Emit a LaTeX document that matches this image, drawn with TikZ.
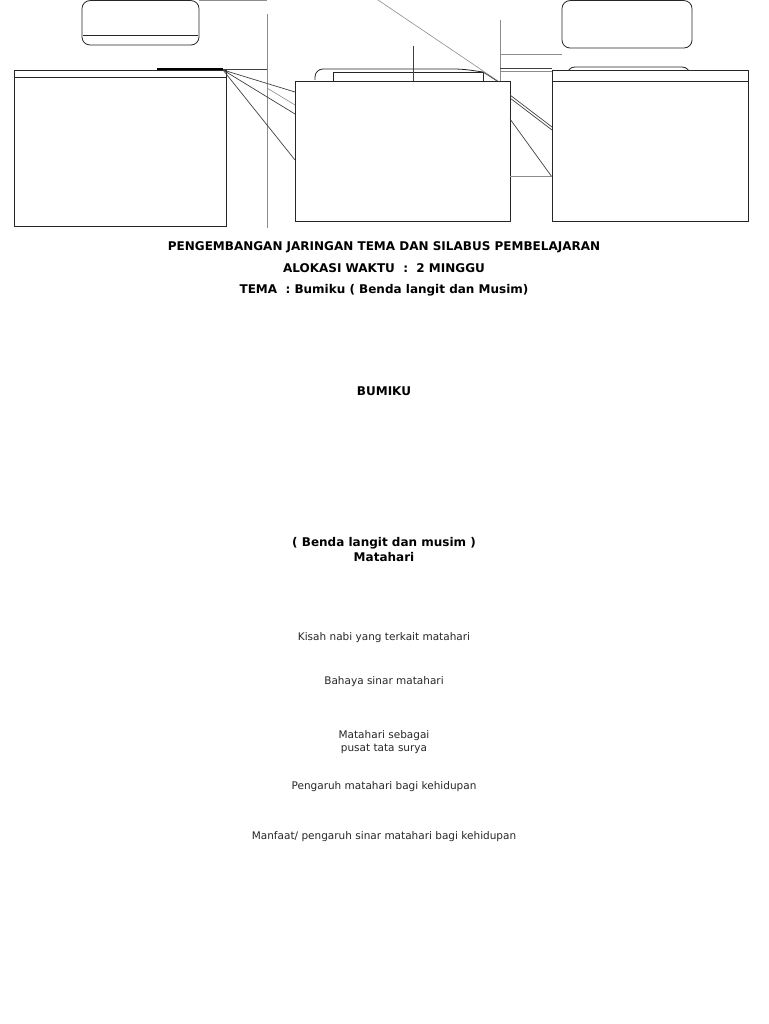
\documentclass[tikz,border=0pt]{standalone}
\usepackage{fontspec}
\setmainfont{DejaVu Sans}
\usetikzlibrary{positioning}

\tikzset{
	panel/.style={draw=black!85, line width=0.8pt, fill=white, inner sep=0pt, outer sep=0pt, anchor=north west},
	capsule/.style={draw=black!85, line width=0.8pt, rounded corners=8pt},
	guide/.style={draw=black!45, line width=0.6pt},
	link/.style={draw=black!75, line width=0.7pt},
	headtext/.style={font=\fontsize{12}{15}\selectfont\bfseries, align=center, inner sep=0pt},
	subtext/.style={font=\fontsize{10.5}{13}\selectfont, text=black!85, align=center, inner sep=0pt}
}

\begin{document}
\begin{tikzpicture}[x=1pt, y=-1pt]
	\useasboundingbox (0,0) rectangle (768,1024);
	% rounded tabs at the top
	\draw[capsule] (82,0.6) rectangle (199,45);
	\draw[capsule, rounded corners=0pt] (83,35) -- (198,35);
	\draw[capsule] (562,0.6) rectangle (692,48);
	\draw[capsule, fill=white] (567,80) -- (567,67) -- (690,67) -- (690,80);
	\draw[capsule] (315,80) -- (315,69) -- (462,69) -- (483,72);
	\draw[draw=black!85, line width=0.8pt] (333,81) rectangle (483,72);
	% guide lines behind the panels
	\draw[guide] (199,0.4) -- (267,0.4);
	\draw[guide] (267,14) -- (267,228);
	\draw[guide] (378,0) -- (498,81);
	\draw[guide] (500,20) -- (500,81);
	\draw[guide] (500,54) -- (562,54);
	\draw[link] (500,68) -- (552,68);
	\draw[guide] (500,71) -- (552,71);
	\draw[link] (413,46) -- (413,81);
	\draw[link] (483,72) -- (497,81);
	\draw[line width=1.6pt] (157,69) -- (223,69);
	\draw[link] (223,69) -- (267,69);
	% the three panels
	\node[panel, minimum width=212pt, minimum height=156pt] (leftpanel) at (14,70) {};
	\node[panel, minimum width=215pt, minimum height=140pt] (midpanel) at (295,81) {};
	\node[panel, minimum width=196pt, minimum height=151pt] (rightpanel) at (552,70) {};
	\draw[draw=black!85, line width=0.8pt] (14,77) -- (226,77);
	\draw[draw=black!85, line width=0.8pt] (552,81) -- (748,81);
	% connector ends
	\coordinate (corner) at (223,70);
	\coordinate (m1) at (295,92);
	\coordinate (m2) at (295,114);
	\coordinate (m3) at (295,160);
	\coordinate (g1) at (267,88);
	\coordinate (g2) at (295,105);
	\coordinate (r1) at (552,127);
	\coordinate (r2) at (552,130);
	\coordinate (r3) at (552,177);
	\coordinate (s1) at (510,95);
	\coordinate (s2) at (510,98);
	\coordinate (s3) at (510,119);
	% connectors between the panels
	\draw[link] (corner) -- (m1);
	\draw[link] (corner) -- (m2);
	\draw[link] (corner) -- (m3);
	\draw[guide] (g1) -- (g2);
	\draw[link] (s1) -- (r1);
	\draw[link] (s2) -- (r2);
	\draw[link] (s3) -- (r3);
	\draw[guide] (510,176) -- (552,176);
	% titles
	\node[headtext] (title) at (384,247.5) {PENGEMBANGAN JARINGAN TEMA DAN SILABUS PEMBELAJARAN};
	\node[headtext] (alokasi) at (384,268.5) {ALOKASI WAKTU~~:~~2 MINGGU};
	\node[headtext] (tema) at (384,290.5) {TEMA~~: Bumiku ( Benda langit dan Musim)};
	\node[headtext] (bumiku) at (384,391.5) {BUMIKU};
	\node[headtext] (benda) at (384,549.5) {( Benda langit dan musim )\\Matahari};
	% subtopics
	\node[subtext] (kisah) at (384,638) {Kisah nabi yang terkait matahari};
	\node[subtext] (bahaya) at (384,682) {Bahaya sinar matahari};
	\node[subtext] (pusat) at (384,742.5) {Matahari sebagai\\pusat tata surya};
	\node[subtext] (pengaruh) at (384,787) {Pengaruh matahari bagi kehidupan};
	\node[subtext] (manfaat) at (384,837) {Manfaat/ pengaruh sinar matahari bagi kehidupan};
\end{tikzpicture}
\end{document}
